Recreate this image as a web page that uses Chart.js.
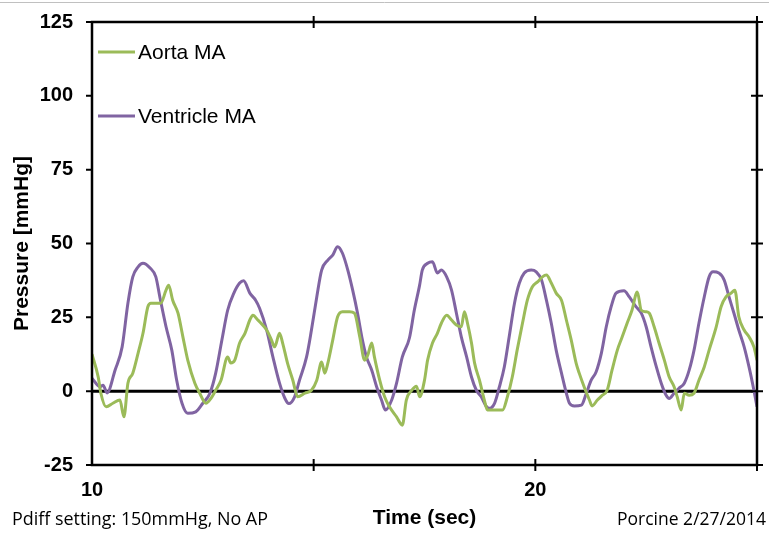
<!DOCTYPE html>
<html>
<head>
<meta charset="utf-8">
<script src="https://cdn.jsdelivr.net/npm/chart.js@4"></script>
<style>
  body { margin: 0; background: #fff; }
  #wrap { width: 769px; height: 533px; }
</style>
</head>
<body>
<div id="wrap"><canvas id="pressureChart"></canvas></div>
<script>
// time in seconds, pressure in mmHg
const aortaTime = [10.00,10.14,10.20,10.32,10.47,10.63,10.72,10.81,10.92,11.04,11.15,11.26,11.33,11.55,11.67,11.73,11.82,11.94,12.05,12.16,12.32,12.43,12.57,12.68,12.79,12.91,13.06,13.13,13.22,13.33,13.45,13.56,13.63,13.74,13.78,13.94,14.05,14.12,14.23,14.30,14.41,14.53,14.64,14.80,14.95,15.07,15.18,15.25,15.32,15.43,15.54,15.65,15.81,15.92,16.04,16.15,16.22,16.31,16.37,16.49,16.60,16.71,16.87,17.00,17.09,17.21,17.32,17.39,17.50,17.57,17.68,17.79,17.88,18.00,18.11,18.22,18.33,18.40,18.47,18.56,18.63,18.74,18.85,18.92,19.08,19.26,19.37,19.48,19.59,19.71,19.82,19.93,20.05,20.16,20.25,20.36,20.47,20.59,20.70,20.81,20.92,20.99,21.10,21.22,21.28,21.40,21.51,21.62,21.73,21.85,21.96,22.07,22.18,22.30,22.39,22.50,22.57,22.68,22.79,22.91,23.02,23.13,23.20,23.29,23.36,23.47,23.58,23.69,23.81,23.92,24.08,24.19,24.30,24.41,24.50,24.59,24.71,24.82,24.93,25.00];
const aortaPressure = [12.5,4.8,-0.7,-5.3,-4.1,-3.0,-8.7,2.7,6.1,12.9,19.6,28.6,29.8,29.8,34.2,35.9,30.8,26.4,18.4,10.5,2.7,-0.7,-4.1,-2.5,0.3,3.7,11.6,9.5,10.5,16.3,19.6,24.1,25.7,24.1,23.5,20.7,17.3,15.0,19.6,16.3,9.5,3.7,-1.9,-0.7,0.3,3.7,9.9,6.1,9.5,17.3,25.2,26.9,26.9,26.4,18.4,10.5,12.2,16.3,11.6,3.7,-1.9,-5.3,-8.7,-11.5,-3.0,0.3,1.7,-1.9,3.7,10.5,16.3,19.6,23.0,25.7,24.1,22.4,21.8,26.9,23.0,16.3,9.5,3.7,-3.0,-6.4,-6.4,-6.4,-1.9,4.8,13.9,23.0,30.8,35.3,37.0,38.7,39.3,36.6,33.2,30.8,24.1,17.3,9.5,6.1,1.5,-3.0,-5.0,-3.0,-1.4,0.3,7.1,13.9,18.4,23.0,27.4,33.6,27.4,26.9,26.4,21.8,16.3,10.5,4.8,1.5,-1.9,-6.4,-0.7,-1.4,-0.7,3.7,8.2,13.9,21.8,28.6,31.9,33.1,34.2,25.2,20.7,18.4,15.0,10.5];

const ventricleTime = [10.00,10.18,10.25,10.34,10.52,10.68,10.81,10.92,11.04,11.15,11.31,11.44,11.53,11.67,11.80,11.91,12.03,12.16,12.34,12.50,12.66,12.79,12.93,13.06,13.20,13.33,13.42,13.56,13.69,13.78,13.94,14.08,14.23,14.35,14.44,14.57,14.68,14.84,14.95,15.07,15.18,15.32,15.43,15.54,15.65,15.77,15.88,15.99,16.10,16.19,16.31,16.42,16.53,16.62,16.76,16.87,17.00,17.16,17.27,17.39,17.45,17.57,17.68,17.79,17.88,18.00,18.11,18.22,18.33,18.45,18.56,18.67,18.78,18.90,18.96,19.08,19.19,19.30,19.41,19.53,19.64,19.75,19.91,20.02,20.14,20.25,20.36,20.47,20.59,20.70,20.77,20.88,21.04,21.15,21.26,21.37,21.49,21.60,21.71,21.82,22.00,22.12,22.27,22.39,22.50,22.61,22.73,22.84,22.95,23.02,23.13,23.24,23.36,23.47,23.58,23.69,23.81,23.92,24.01,24.14,24.26,24.37,24.48,24.59,24.71,24.82,24.93,25.00];
const ventriclePressure = [4.4,1.5,2.0,-0.6,7.1,15.0,29.8,38.7,42.1,43.3,41.7,38.7,31.9,21.8,13.9,3.7,-4.1,-7.5,-7.0,-4.1,-0.7,6.1,17.3,27.4,33.2,36.6,37.4,33.2,30.8,28.1,20.7,11.6,2.7,-2.4,-4.2,-1.9,3.7,11.6,20.7,31.9,41.0,44.4,46.1,48.9,46.7,41.0,34.2,26.4,17.3,11.6,7.1,1.5,-3.0,-6.4,-3.0,2.7,11.6,18.0,27.4,35.9,41.0,43.3,43.8,40.0,41.0,38.7,34.2,26.4,18.4,11.6,4.8,0.3,-1.9,-5.3,-5.8,-4.1,1.5,8.2,18.4,29.8,36.6,40.0,41.0,40.4,37.6,30.8,23.0,13.9,6.1,-0.7,-4.1,-5.0,-4.7,-0.7,3.7,6.5,12.9,21.8,28.6,33.2,34.0,31.9,28.6,26.4,21.8,15.0,8.2,2.7,-1.4,-2.5,-0.7,1.0,2.7,7.1,13.9,23.0,31.9,38.7,40.4,40.0,37.6,31.9,26.4,20.7,15.0,8.2,0.3,-5.3];

const xMin = 10, xMax = 25;
const yMin = -25, yMax = 125, yStep = 25;
const xMinorTicks = [15, 20, 25];
const xLabelValues = [10, 20];
const seriesNames = ['Aorta MA', 'Ventricle MA'];
const seriesColors = ['#9bbb59', '#8064a2'];
const notes = ['Pdiff setting: 150mmHg, No AP', 'Porcine 2/27/2014'];

function toPoints(xs, ys) {
    return xs.map((x, i) => ({ x: x, y: ys[i] }));
}

function fitFont(ctx, text, width, family) {
    ctx.font = '20px ' + family;
    const size = 20 * width / ctx.measureText(text).width;
    ctx.font = size.toFixed(2) + 'px ' + family;
}

// frame, zero line, cross ticks, legend and notes
const chartDecor = {
    id: 'chartDecor',
    beforeDatasetsDraw(chart) {
        const { ctx, chartArea: a, scales: { y } } = chart;
        const y0 = y.getPixelForValue(0);
        ctx.save();
        ctx.strokeStyle = '#000';
        ctx.lineWidth = 3;
        ctx.beginPath();
        ctx.moveTo(a.left, y0);
        ctx.lineTo(a.right, y0);
        ctx.stroke();
        ctx.restore();
    },
    afterDatasetsDraw(chart) {
        const { ctx, chartArea: a, scales: { x, y } } = chart;
        ctx.save();
        ctx.strokeStyle = '#000';
        ctx.lineWidth = 2.5;
        ctx.strokeRect(a.left, a.top, a.right - a.left, a.bottom - a.top);
        ctx.lineWidth = 2;
        ctx.beginPath();
        for (let v = yMin; v <= yMax; v += yStep) {
            const py = y.getPixelForValue(v);
            ctx.moveTo(a.left - 6, py);
            ctx.lineTo(a.left, py);
            ctx.moveTo(a.right - 6, py);
            ctx.lineTo(a.right + 6, py);
        }
        xMinorTicks.forEach(v => {
            const px = x.getPixelForValue(v);
            ctx.moveTo(px, a.top - 6);
            ctx.lineTo(px, a.top + 6);
            ctx.moveTo(px, a.bottom - 6);
            ctx.lineTo(px, a.bottom + 6);
        });
        ctx.stroke();

        // legend
        const legendY = [52, 116];
        ctx.font = '21px "Liberation Sans", Arial, sans-serif';
        ctx.textBaseline = 'middle';
        ctx.fillStyle = '#000';
        seriesNames.forEach((name, i) => {
            ctx.strokeStyle = seriesColors[i];
            ctx.lineWidth = 3;
            ctx.beginPath();
            ctx.moveTo(a.left + 6, legendY[i]);
            ctx.lineTo(a.left + 43, legendY[i]);
            ctx.stroke();
            ctx.fillText(name, a.left + 46, legendY[i] + 1);
        });
        ctx.restore();
    },
    afterDraw(chart) {
        const { ctx, width } = chart;
        ctx.save();
        ctx.strokeStyle = '#c0c0c0';
        ctx.lineWidth = 1;
        ctx.beginPath();
        ctx.moveTo(0, 2.5);
        ctx.lineTo(width, 2.5);
        ctx.stroke();

        const fam = '"Liberation Sans Narrow", "Open Sans", sans-serif';
        ctx.fillStyle = '#000';
        ctx.textBaseline = 'middle';
        ctx.textAlign = 'left';
        fitFont(ctx, notes[0], 256, fam);
        ctx.fillText(notes[0], 12, 520);
        fitFont(ctx, notes[1], 149, fam);
        ctx.textAlign = 'right';
        ctx.fillText(notes[1], 766, 520);
        ctx.restore();
    }
};

const ctx = document.getElementById('pressureChart').getContext('2d');
new Chart(ctx, {
    type: 'line',
    data: {
        datasets: [{
            label: seriesNames[0],
            data: toPoints(aortaTime, aortaPressure),
            borderColor: seriesColors[0],
            borderWidth: 3,
            pointRadius: 0,
            cubicInterpolationMode: 'monotone'
        }, {
            label: seriesNames[1],
            data: toPoints(ventricleTime, ventriclePressure),
            borderColor: seriesColors[1],
            borderWidth: 3,
            pointRadius: 0,
            cubicInterpolationMode: 'monotone'
        }]
    },
    options: {
        responsive: true,
        maintainAspectRatio: false,
        animation: false,
        layout: { padding: { left: 0, right: 12, top: 22, bottom: 0 } },
        plugins: {
            legend: { display: false },
            tooltip: { enabled: false }
        },
        scales: {
            x: {
                type: 'linear',
                min: xMin,
                max: xMax,
                grid: { display: false, drawTicks: false },
                border: { display: false },
                afterFit: s => { s.height = 68; s.paddingLeft = 0; s.paddingRight = 0; },
                afterBuildTicks: s => { s.ticks = [xMin, 15, 20, xMax].map(v => ({ value: v })); },
                ticks: {
                    padding: 13,
                    maxRotation: 0,
                    autoSkip: false,
                    color: '#000',
                    font: { family: '"Liberation Sans", Arial', size: 20, weight: 'bold' },
                    callback: v => xLabelValues.includes(v) ? String(v) : ''
                },
                title: {
                    display: true,
                    text: 'Time (sec)',
                    color: '#000',
                    font: { family: '"Liberation Sans", Arial', size: 21, weight: 'bold' },
                    padding: { top: 0, bottom: 2 }
                }
            },
            y: {
                min: yMin,
                max: yMax,
                grid: { display: false, drawTicks: false },
                border: { display: false },
                afterFit: s => { s.width = 92; s.paddingTop = 0; s.paddingBottom = 0; },
                ticks: {
                    stepSize: yStep,
                    padding: 19,
                    color: '#000',
                    font: { family: '"Liberation Sans", Arial', size: 20, weight: 'bold' }
                },
                title: {
                    display: true,
                    text: 'Pressure [mmHg]',
                    color: '#000',
                    font: { family: '"Liberation Sans", Arial', size: 21, weight: 'bold' },
                    padding: { top: 10, bottom: 0 }
                }
            }
        }
    },
    plugins: [chartDecor]
});
</script>
</body>
</html>
